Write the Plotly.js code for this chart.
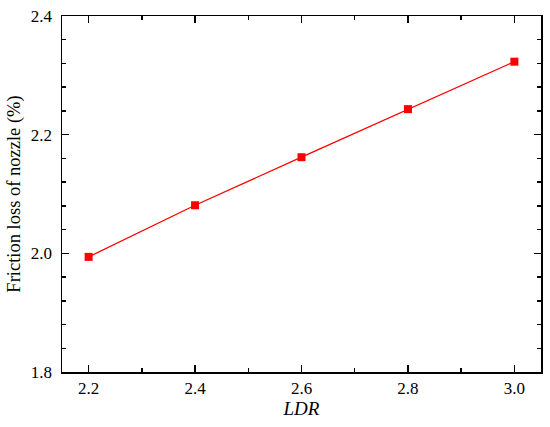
<!DOCTYPE html>
<html>
<head>
<meta charset="utf-8">
<script src="https://cdn.plot.ly/plotly-3.0.1.min.js"></script>
<style>html,body{margin:0;padding:0;background:#fff;}#chart{width:550px;height:427px;}</style>
</head>
<body>
<div id="chart"></div>
<script>
const ldr = [2.2, 2.4, 2.6, 2.8, 3.0];
const frictionLoss = [1.994, 2.081, 2.162, 2.243, 2.323];
const xTickVals = [2.2, 2.4, 2.6, 2.8, 3.0];
const xTickText = ['2.2', '2.4', '2.6', '2.8', '3.0'];
const yTickVals = [1.8, 2.0, 2.2, 2.4];
const yTickText = ['1.8', '2.0', '2.2', '2.4'];

const tickFont = {family: 'Liberation Serif', size: 17, color: '#000'};
const yTitleFont = {family: 'Liberation Serif', size: 18.5, color: '#000'};
const xTitleFont = {family: 'Liberation Serif', size: 19, color: '#000'};

const trace = {
  x: ldr, y: frictionLoss, type: 'scatter', mode: 'lines+markers',
  line: {color: '#ff0000', width: 1.3},
  marker: {symbol: 'square', size: 8, color: '#ff0000'},
  showlegend: false
};

const axisCommon = {
  showline: true, linecolor: '#000', linewidth: 1.5, mirror: 'allticks',
  ticks: 'inside', ticklen: 7, tickwidth: 1.5, tickcolor: '#000',
  showgrid: false, zeroline: false, tickfont: tickFont
};

const layout = {
  width: 550, height: 427,
  margin: {l: 62, r: 9, t: 16, b: 55},
  paper_bgcolor: '#fff', plot_bgcolor: '#fff',
  font: tickFont,
  xaxis: Object.assign({}, axisCommon, {
    range: [2.15, 3.05], tickmode: 'array', tickvals: xTickVals, ticktext: xTickText,
    ticklabelstandoff: 0,
    minor: {ticks: 'inside', dtick: 0.1, tick0: 2.2, ticklen: 4, tickwidth: 1.5, tickcolor: '#000'},
    title: {text: '<i>LDR</i>', font: xTitleFont, standoff: 1}
  }),
  yaxis: Object.assign({}, axisCommon, {
    range: [1.8, 2.4], tickmode: 'array', tickvals: yTickVals, ticktext: yTickText,
    ticklabelstandoff: 5,
    minor: {ticks: 'inside', dtick: 0.04, tick0: 1.8, ticklen: 4, tickwidth: 1.5, tickcolor: '#000'},
    title: {text: 'Friction loss of nozzle (%)', font: yTitleFont, standoff: 5}
  })
};

Plotly.newPlot('chart', [trace], layout, {displayModeBar: false, staticPlot: true});
</script>
</body>
</html>
